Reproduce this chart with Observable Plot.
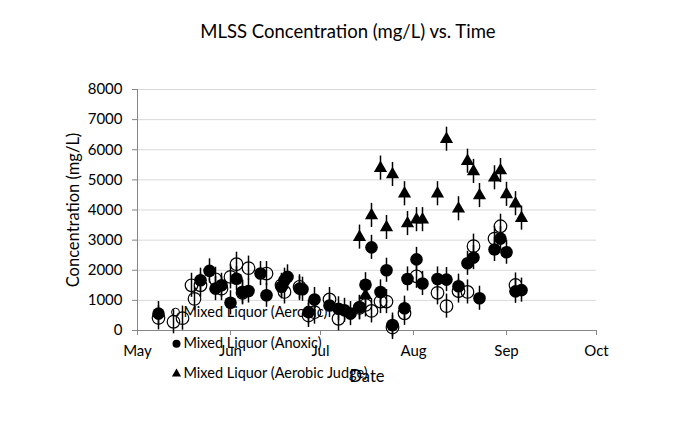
<!DOCTYPE html>
<html><head><meta charset="utf-8">
<script src="https://cdn.jsdelivr.net/npm/d3@7"></script>
<script src="https://cdn.jsdelivr.net/npm/@observablehq/plot@0.6"></script>
<style>html,body{margin:0;padding:0;background:#fff;} svg{display:block;}</style>
</head><body><div id="chart"></div>
<script>
const titleText = "MLSS Concentration (mg/L) vs. Time";
const xLabel = "Date";
const yLabel = "Concentration (mg/L)";
const seriesNames = ["Mixed Liquor (Aerobic)", "Mixed Liquor (Anoxic)", "Mixed Liquor (Aerobic Judge)"];

const aerobicDates = ["2013-05-08","2013-05-13","2013-05-16","2013-05-19","2013-05-20","2013-05-22","2013-05-27","2013-05-29","2013-06-01","2013-06-03","2013-06-05","2013-06-07","2013-06-13","2013-06-18","2013-06-19","2013-06-24","2013-06-27","2013-06-29","2013-07-04","2013-07-07","2013-07-14","2013-07-16","2013-07-18","2013-07-21","2013-07-23","2013-07-25","2013-07-29","2013-08-02","2013-08-09","2013-08-12","2013-08-16","2013-08-19","2013-08-21","2013-08-28","2013-08-30","2013-09-04"];
const aerobicValues = [420,290,410,1500,1050,1500,1700,1390,1780,2200,1250,2070,1890,1500,1280,1450,500,610,1030,390,750,850,650,960,960,100,570,1800,1250,810,1310,1280,2800,3050,3460,1510];

const anoxicDates = ["2013-05-08","2013-05-22","2013-05-25","2013-05-27","2013-05-29","2013-06-01","2013-06-03","2013-06-05","2013-06-07","2013-06-11","2013-06-13","2013-06-18","2013-06-19","2013-06-20","2013-06-24","2013-06-25","2013-06-27","2013-06-29","2013-07-04","2013-07-07","2013-07-09","2013-07-11","2013-07-14","2013-07-16","2013-07-18","2013-07-21","2013-07-23","2013-07-25","2013-07-29","2013-07-30","2013-08-02","2013-08-04","2013-08-09","2013-08-12","2013-08-16","2013-08-19","2013-08-21","2013-08-23","2013-08-28","2013-08-30","2013-09-01","2013-09-04","2013-09-06"];
const anoxicValues = [560,1670,1980,1390,1500,920,1720,1280,1310,1890,1170,1450,1670,1780,1390,1370,610,1030,830,720,670,560,770,1520,2760,1280,2000,180,740,1710,2360,1560,1710,1690,1470,2230,2420,1070,2690,3050,2600,1300,1340];

const judgeDates = ["2013-07-14","2013-07-16","2013-07-18","2013-07-21","2013-07-23","2013-07-25","2013-07-29","2013-07-30","2013-08-02","2013-08-04","2013-08-09","2013-08-12","2013-08-16","2013-08-19","2013-08-21","2013-08-23","2013-08-28","2013-08-30","2013-09-01","2013-09-04","2013-09-06"];
const judgeValues = [3100,1170,3820,5390,3420,5180,4540,3550,3680,3680,4540,6350,4040,5620,5280,4480,5070,5310,4520,4210,3730];

const errorBars = [400, 400, 400];
const yTicks = [0,1000,2000,3000,4000,5000,6000,7000,8000];
const xTicks = ["2013-05-01","2013-06-01","2013-07-01","2013-08-01","2013-09-01","2013-10-01"];

const toDate = s => new Date(s + "T00:00:00Z");
const rows = (dates, values, err) => dates.map((d, i) => ({date: toDate(d), value: values[i], lo: values[i] - err, hi: values[i] + err}));
const aerobic = rows(aerobicDates, aerobicValues, errorBars[0]);
const anoxic = rows(anoxicDates, anoxicValues, errorBars[1]);
const judge = rows(judgeDates, judgeValues, errorBars[2]);
const xTickDates = xTicks.map(toDate);

const font = "Lato, 'Open Sans', sans-serif";
const axisGray = "#868686";
const bar = {x: "date", y1: "lo", y2: "hi", stroke: "#000", strokeWidth: 1.5};
const label = {textAnchor: "middle", lineAnchor: "middle", fill: "#000"};
const legendText = {frameAnchor: "top-left", dx: 46, textAnchor: "start", lineAnchor: "middle", text: d => d, fontSize: 14.5, fill: "#000"};

const chart = Plot.plot({
  width: 679, height: 444,
  marginLeft: 137, marginRight: 83, marginTop: 89, marginBottom: 114,
  style: {fontFamily: font, fontSize: "15px", color: "#000", background: "#fff", overflow: "visible"},
  x: {type: "utc", domain: [xTickDates[0], xTickDates[xTickDates.length - 1]]},
  y: {domain: [yTicks[0], yTicks[yTicks.length - 1]]},
  marks: [
    Plot.gridY(yTicks.slice(1), {stroke: "#d9d9d9", strokeOpacity: 1, strokeWidth: 1}),
    Plot.ruleX([xTickDates[0]], {stroke: axisGray, y1: yTicks[0], y2: yTicks[yTicks.length - 1]}),
    Plot.ruleY([0], {stroke: axisGray}),
    Plot.axisY(yTicks, {tickSize: 5, tickPadding: 10, stroke: axisGray, fill: "#000", label: null, tickFormat: d3.format("d"), fontSize: 15}),
    Plot.axisX(xTickDates, {tickSize: 5, tickPadding: 10, stroke: axisGray, fill: "#000", label: null, tickFormat: d3.utcFormat("%b"), fontSize: 15}),
    // Aerobic
    Plot.ruleX(aerobic, bar),
    Plot.dot(aerobic, {x: "date", y: "value", r: 6.3, fill: "none", stroke: "#000", strokeWidth: 1.2}),
    // Anoxic
    Plot.ruleX(anoxic, bar),
    Plot.dot(anoxic, {x: "date", y: "value", r: 6.3, fill: "#000", stroke: "none"}),
    // Aerobic Judge
    Plot.ruleX(judge, bar),
    Plot.dot(judge, {x: "date", y: "value", r: 4.9, symbol: "triangle", fill: "#000", stroke: "none"}),
    // Titles
    Plot.text([titleText], {...label, frameAnchor: "top", dx: -19, dy: -57, fontSize: 18.5}),
    Plot.text([yLabel], {...label, frameAnchor: "left", dx: -64, rotate: -90, fontSize: 16.5}),
    Plot.text([xLabel], {...label, frameAnchor: "bottom", dy: 46.5, fontSize: 16.5}),
    // Legend
    Plot.dot([seriesNames[0]], {frameAnchor: "top-left", dx: 38, dy: 222.7, r: 4, fill: "none", stroke: "#000", strokeWidth: 1}),
    Plot.dot([seriesNames[1]], {frameAnchor: "top-left", dx: 39, dy: 254.3, r: 4, fill: "#000"}),
    Plot.dot([seriesNames[2]], {frameAnchor: "top-left", dx: 39, dy: 284.3, r: 3.4, symbol: "triangle", fill: "#000"}),
    Plot.text([seriesNames[0]], {...legendText, dy: 222.7}),
    Plot.text([seriesNames[1]], {...legendText, dy: 254.3}),
    Plot.text([seriesNames[2]], {...legendText, dy: 284.3})
  ]
});
document.getElementById("chart").appendChild(chart);
</script>
</body></html>
